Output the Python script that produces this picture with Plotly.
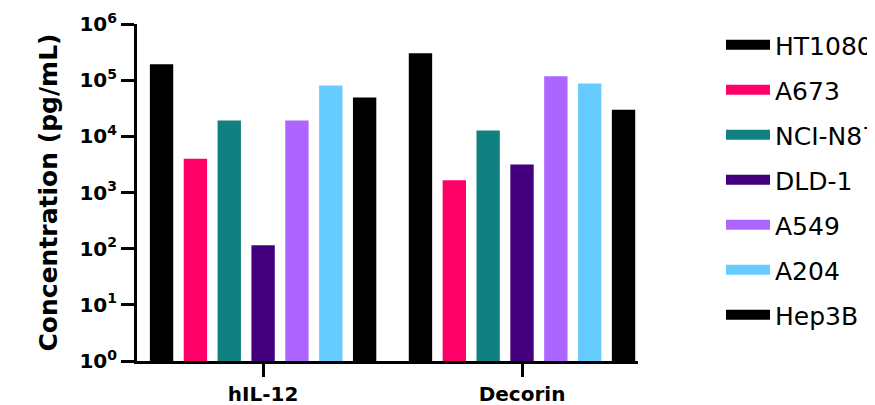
import plotly.graph_objects as go

categories = ["hIL-12", "Decorin"]
series_names = ["HT1080", "A673", "NCI-N87", "DLD-1", "A549", "A204", "Hep3B"]
series_colors = ["#000000", "#FF0066", "#108080", "#42007F", "#AC66FF", "#66CCFF", "#000000"]
values_hil12 = [1.93e5, 4.0e3, 1.92e4, 1.15e2, 1.92e4, 8.05e4, 4.9e4]
values_decorin = [3.0e5, 1.66e3, 1.27e4, 3.16e3, 1.18e5, 8.7e4, 2.96e4]
y_tick_exponents = [0, 1, 2, 3, 4, 5, 6]

FONT = "DejaVu Sans, Liberation Sans, Arial, sans-serif"
W, H = 867, 397  # page body adds an 8px offset

fig = go.Figure()
for i, name in enumerate(series_names):
    fig.add_trace(go.Bar(
        x=categories,
        y=[values_hil12[i], values_decorin[i]],
        name=name,
        marker=dict(color=series_colors[i], line=dict(width=0)),
        showlegend=False,
    ))
for i, name in enumerate(series_names):
    fig.add_trace(go.Scatter(
        x=[None], y=[None], mode="lines", name=name, legendgroup=name,
        line=dict(color=series_colors[i], width=17), showlegend=True,
        hoverinfo="skip",
    ))

fig.update_layout(
    width=W, height=H,
    margin=dict(l=129, r=237, t=16, b=44, autoexpand=False),
    paper_bgcolor="white", plot_bgcolor="white",
    barmode="group", bargap=0.085, bargroupgap=0.31,
    font=dict(family=FONT, color="black"),
    legend=dict(
        x=713 / W, xanchor="left", xref="container",
        y=1 - 14 / H, yanchor="top", yref="container",
        font=dict(size=25, family=FONT, color="black"),
        tracegroupgap=9.5, itemwidth=44, maxheight=400,
        bgcolor="rgba(0,0,0,0)",
    ),
    showlegend=True,
)
fig.update_xaxes(
    type="category", range=[-0.487, 1.448], automargin=False,
    showline=True, linecolor="black", linewidth=3,
    ticks="outside", ticklen=13, tickwidth=3, tickcolor="black",
    tickfont=dict(size=20, family=FONT, color="black", weight="bold"),
    showgrid=False, zeroline=False,
)
fig.update_yaxes(
    type="log", range=[0, 6], automargin=False,
    tickvals=[10 ** e for e in y_tick_exponents],
    ticktext=["10<sup>%d</sup>" % e for e in y_tick_exponents],
    showline=True, linecolor="black", linewidth=3,
    ticks="outside", ticklen=13, tickwidth=3, tickcolor="black",
    tickfont=dict(size=20, family=FONT, color="black", weight="bold"),
    title=dict(text="Concentration (pg/mL)", standoff=15,
               font=dict(size=25, family=FONT, color="black", weight="bold")),
    showgrid=False, zeroline=False,
)

fig.write_html("out.html")
